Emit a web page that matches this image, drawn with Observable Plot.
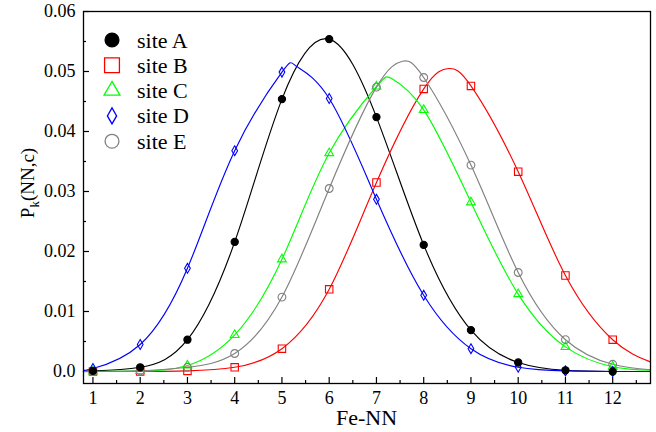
<!DOCTYPE html>
<html><head><meta charset="utf-8">
<script src="https://cdn.jsdelivr.net/npm/d3@7"></script>
<script src="https://cdn.jsdelivr.net/npm/@observablehq/plot@0.6"></script>
<style>
body{margin:0;background:#fff}
#chart{position:relative;width:656px;height:432px}
</style>
</head><body><div id="chart"></div>
<script>
// ---- data ----
const feNN = [1,2,3,4,5,6,7,8,9,10,11,12];
const siteA = [0.0001,0.0007,0.0053,0.0216,0.0454,0.0554,0.0424,0.0211,0.0069,0.0015,0.0002,0.0000];
const siteB = [0.0000,0.0000,0.0001,0.0007,0.0038,0.0137,0.0315,0.0471,0.0476,0.0333,0.0160,0.0053];
const siteC = [0.0000,0.0001,0.0010,0.0061,0.0187,0.0364,0.0475,0.0436,0.0282,0.0129,0.0041,0.0008];
const siteD = [0.0005,0.0045,0.0172,0.0368,0.0499,0.0455,0.0287,0.0127,0.0038,0.0007,0.0001,0.0000];
const siteE = [0.0000,0.0001,0.0007,0.0030,0.0124,0.0305,0.0474,0.0490,0.0344,0.0165,0.0053,0.0012];
const siteNames = ["site A","site B","site C","site D","site E"];
const siteColors = ["#000000","#ff0000","#00ff00","#0000ff","#808080"];
const siteSymbols = ["circle","square","triangle2","diamond","circle"];
// fitted curves: values at the frame edges and at the peaks
// (site A peaks right at its point at 6, so no extra peak value is needed there)
const curveEdgesX = [0.8, 12.8];
const curveStart = [0.0000,0.0000,0.0000,0.0003,0.0000];
const curveEnd   = [0.0000,0.0016,0.0002,0.0000,0.0003];
const peakX = [null, 8.53, 7.33, 5.30, 7.55];
const peakY = [null, 0.0505, 0.0488, 0.0509, 0.0517];
const xTicks = [1,2,3,4,5,6,7,8,9,10,11,12];
const xMinor = [1.5,2.5,3.5,4.5,5.5,6.5,7.5,8.5,9.5,10.5,11.5,12.5];
const yTicks = [0,0.01,0.02,0.03,0.04,0.05,0.06];
const yMinor = [0.005,0.015,0.025,0.035,0.045,0.055];

const series = [siteA, siteB, siteC, siteD, siteE];
const points = [];
const lineRows = [];
series.forEach((vals, i) => {
  const rows = [{x: curveEdgesX[0], y: curveStart[i]}];
  vals.forEach((v, j) => {
    points.push({site: siteNames[i], x: feNN[j], y: v});
    rows.push({x: feNN[j], y: v});
  });
  if (peakX[i] != null) rows.push({x: peakX[i], y: peakY[i]});
  rows.push({x: curveEdgesX[1], y: curveEnd[i]});
  rows.sort((a, b) => a.x - b.x).forEach(r => lineRows.push({site: siteNames[i], ...r}));
});

const font = '"Liberation Serif"';
const dotStyle = {
  "site A": {fill: "#000", stroke: "#000", r: 3.6},
  "site B": {fill: "none", stroke: "#ff0000", r: 4.2},
  "site C": {fill: "none", stroke: "#00ff00", r: 4.2},
  "site D": {fill: "none", stroke: "#0000ff", r: 3.0},
  "site E": {fill: "none", stroke: "#808080", r: 3.9}
};
const drawOrder = ["site B","site C","site E","site D","site A"];

const chart = Plot.plot({
  width: 656, height: 432,
  marginLeft: 83, marginRight: 6, marginTop: 11, marginBottom: 49,
  style: {fontSize: "18px", fontFamily: font, background: "#fff", color: "#000"},
  x: {domain: [0.8, 12.8]},
  y: {domain: [-0.002, 0.06]},
  color: {domain: siteNames, range: siteColors},
  marks: [
    Plot.axisX({ticks: xTicks, tickSize: -6, tickPadding: 14, tickFormat: d => String(d), label: null, strokeWidth: 1.2}),
    Plot.axisX({ticks: xMinor, tickSize: -3, tickFormat: () => "", label: null, strokeWidth: 1.2}),
    Plot.axisY({ticks: yTicks, tickSize: -6, tickPadding: 14, tickFormat: d => d === 0 ? "0.0" : d.toFixed(2), label: null, strokeWidth: 1.2}),
    Plot.axisY({ticks: yMinor, tickSize: -3, tickFormat: () => "", label: null, strokeWidth: 1.2}),
    Plot.line(lineRows, {x: "x", y: "y", z: "site", stroke: "site", curve: "natural", strokeWidth: 1.15}),
    ...drawOrder.map(name => {
      const i = siteNames.indexOf(name);
      const st = dotStyle[name];
      return Plot.dot(points.filter(d => d.site === name), {
        x: "x", y: "y", symbol: () => siteSymbols[i], r: st.r,
        fill: st.fill, stroke: st.stroke, strokeWidth: 1.1
      });
    }),
    Plot.frame({stroke: "#000", strokeWidth: 1.3})
  ]
});

document.getElementById("chart").appendChild(chart);
const svg = d3.select(chart);
// y-axis title with subscript
const yt = svg.append("text")
  .attr("transform", "translate(27,183) rotate(-90)")
  .attr("text-anchor", "middle")
  .attr("dominant-baseline", "central")
  .style("font-family", font)
  .attr("font-size", 19);
yt.append("tspan").text("P");
yt.append("tspan").attr("baseline-shift", "sub").attr("font-size", 13).text("k");
yt.append("tspan").text("(NN,c)");
// x-axis title
svg.append("text")
  .attr("x", 366.5).attr("y", 417)
  .attr("text-anchor", "middle")
  .attr("dominant-baseline", "central")
  .style("font-family", font)
  .attr("font-size", 22)
  .text("Fe-NN");

// legend
const leg = svg.append("g");
const legSizes = [150, 220, 180, 74, 150];
const symMap = {circle: d3.symbolCircle, square: d3.symbolSquare, triangle2: d3.symbolTriangle2, diamond: d3.symbolDiamond};
siteNames.forEach((name, i) => {
  const cy = 40 + i * 25.3;
  leg.append("path")
    .attr("transform", `translate(112,${cy})`)
    .attr("d", d3.symbol(symMap[siteSymbols[i]], legSizes[i])())
    .attr("fill", i === 0 ? "#000" : "none")
    .attr("stroke", siteColors[i])
    .attr("stroke-width", 1.3);
  leg.append("text")
    .attr("x", 137).attr("y", cy)
    .attr("text-anchor", "start")
    .attr("dominant-baseline", "central")
    .style("font-family", font)
    .attr("font-size", 22)
    .text(name);
});
</script>
</body></html>
